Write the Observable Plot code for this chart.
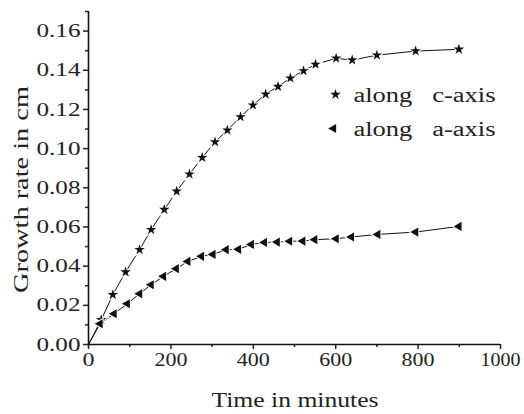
<!DOCTYPE html>
<html><head><meta charset="utf-8">
<script src="https://cdn.jsdelivr.net/npm/d3@7"></script>
<script src="https://cdn.jsdelivr.net/npm/@observablehq/plot@0.6"></script>
<style>body{margin:0;background:#fff} svg{display:block}</style>
</head><body><div id="chart"></div>
<script>
// c-axis series (stars)
const timeC = [0, 31, 59, 90, 124, 152, 184, 214, 245, 276, 307, 337, 369, 399, 430, 460, 490, 522, 551, 601, 640, 700, 794, 899];
const growthC = [0, 0.0126, 0.0254, 0.037, 0.0484, 0.0586, 0.0689, 0.0782, 0.087, 0.0954, 0.1034, 0.1094, 0.1162, 0.1222, 0.1278, 0.1317, 0.136, 0.1397, 0.143, 0.1461, 0.1452, 0.1477, 0.1498, 0.1507];
// a-axis series (left triangles)
const timeA = [0, 28, 62, 94, 124, 152, 182, 213, 241, 274, 302, 334, 364, 395, 427, 458, 488, 520, 549, 601, 638, 702, 794, 899];
const growthA = [0, 0.0106, 0.0157, 0.0208, 0.0259, 0.0305, 0.0348, 0.0387, 0.0424, 0.045, 0.046, 0.0484, 0.0486, 0.0511, 0.0521, 0.0523, 0.0527, 0.0528, 0.0535, 0.054, 0.0549, 0.0562, 0.0574, 0.0603];

const seriesNames = ["along\u00a0\u00a0 c-axis", "along\u00a0\u00a0 a-axis"];
const xMajorTicks = [0, 200, 400, 600, 800, 1000];
const xMinorTicks = [100, 300, 500, 700, 900];
const yMajorTicks = [0, 0.02, 0.04, 0.06, 0.08, 0.10, 0.12, 0.14, 0.16];
const yMinorTicks = [0.01, 0.03, 0.05, 0.07, 0.09, 0.11, 0.13, 0.15, 0.17];
const xLabel = "Time in minutes";
const yLabel = "Growth rate in cm";

const dataC = timeC.map((t, i) => ({t, g: growthC[i]}));
const dataA = timeA.map((t, i) => ({t, g: growthA[i]}));

const FONT = '"Liberation Serif", "Times New Roman", Times, serif';

const chart = Plot.plot({
  width: 524, height: 414,
  marginLeft: 88, marginRight: 24, marginTop: 11, marginBottom: 70,
  style: {fontFamily: FONT, fontSize: "19px", color: "#222", background: "white"},
  x: {domain: [0, 1000]},
  y: {domain: [0, 0.17]},
  marks: [
    Plot.axisX({ticks: xMajorTicks, tickSize: 5, tickPadding: 3, strokeWidth: 1.5, tickFormat: d3.format("d"), label: null}),
    Plot.axisX({ticks: xMinorTicks, tickSize: 3, strokeWidth: 1.5, tickFormat: () => "", label: null}),
    Plot.axisY({ticks: yMajorTicks, tickSize: 5, tickPadding: 3, strokeWidth: 1.5, tickFormat: d3.format(".2f"), label: null}),
    Plot.axisY({ticks: yMinorTicks, tickSize: 3, strokeWidth: 1.5, tickFormat: () => "", label: null}),
    Plot.ruleX([0], {strokeWidth: 1.6, stroke: "#111"}),
    Plot.ruleY([0], {strokeWidth: 1.6, stroke: "#111"}),
    Plot.line(dataC, {x: "t", y: "g", stroke: "#111", strokeWidth: 1}),
    Plot.line(dataA, {x: "t", y: "g", stroke: "#111", strokeWidth: 1}),
    Plot.dot(dataC.filter(d => d.t > 0), {x: "t", y: "g", symbol: "star", r: 3.3, fill: "#111", stroke: "white", strokeWidth: 2, paintOrder: "stroke"}),
    Plot.dot(dataA.filter(d => d.t > 0), {x: "t", y: "g", symbol: "triangle", rotate: -90, r: 3.4, fill: "#111", stroke: "white", strokeWidth: 2, paintOrder: "stroke"}),
    // legend
    Plot.dot([seriesNames[0]], {frameAnchor: "top-left", dx: 247, dy: 83, symbol: "star", r: 3.3, fill: "#111"}),
    Plot.dot([seriesNames[1]], {frameAnchor: "top-left", dx: 245, dy: 117, symbol: "triangle", rotate: -90, r: 3.4, fill: "#111"}),
    Plot.text([seriesNames[0]], {frameAnchor: "top-left", dx: 265, dy: 84, text: d => d, textAnchor: "start", lineAnchor: "middle", fontSize: 20, fill: "#222"}),
    Plot.text([seriesNames[1]], {frameAnchor: "top-left", dx: 265, dy: 118, text: d => d, textAnchor: "start", lineAnchor: "middle", fontSize: 20, fill: "#222"}),
    // axis titles
    Plot.text([xLabel], {frameAnchor: "bottom", dx: -83, dy: 56, text: d => d, textAnchor: "start", lineAnchor: "middle", fontSize: 20, fill: "#222"}),
    Plot.text([yLabel], {frameAnchor: "left", dx: -67, dy: 115, rotate: -90, text: d => d, textAnchor: "start", lineAnchor: "middle", fontSize: 20, fill: "#222"})
  ]
});

document.getElementById("chart").appendChild(chart);

// stretch/condense text to match the reference's lettering widths
const sel = d3.select(chart);
function fit(el, len) { el.setAttribute("textLength", len); el.setAttribute("lengthAdjust", "spacingAndGlyphs"); }
sel.selectAll("text").each(function() {
  const s = this.textContent;
  if (s === xLabel) fit(this, 167);
  if (s === yLabel) fit(this, 207);
  if (seriesNames.includes(s)) fit(this, 142);
});
sel.selectAll('g[aria-label="y-axis tick label"] text').each(function() {
  if (this.textContent) fit(this, 44);
});
const xTickWidths = {1: 12, 2: 22, 3: 33, 4: 40};
sel.selectAll('g[aria-label="x-axis tick label"] text').each(function() {
  const n = this.textContent.length;
  if (n) fit(this, xTickWidths[n]);
});
</script>
</body></html>
